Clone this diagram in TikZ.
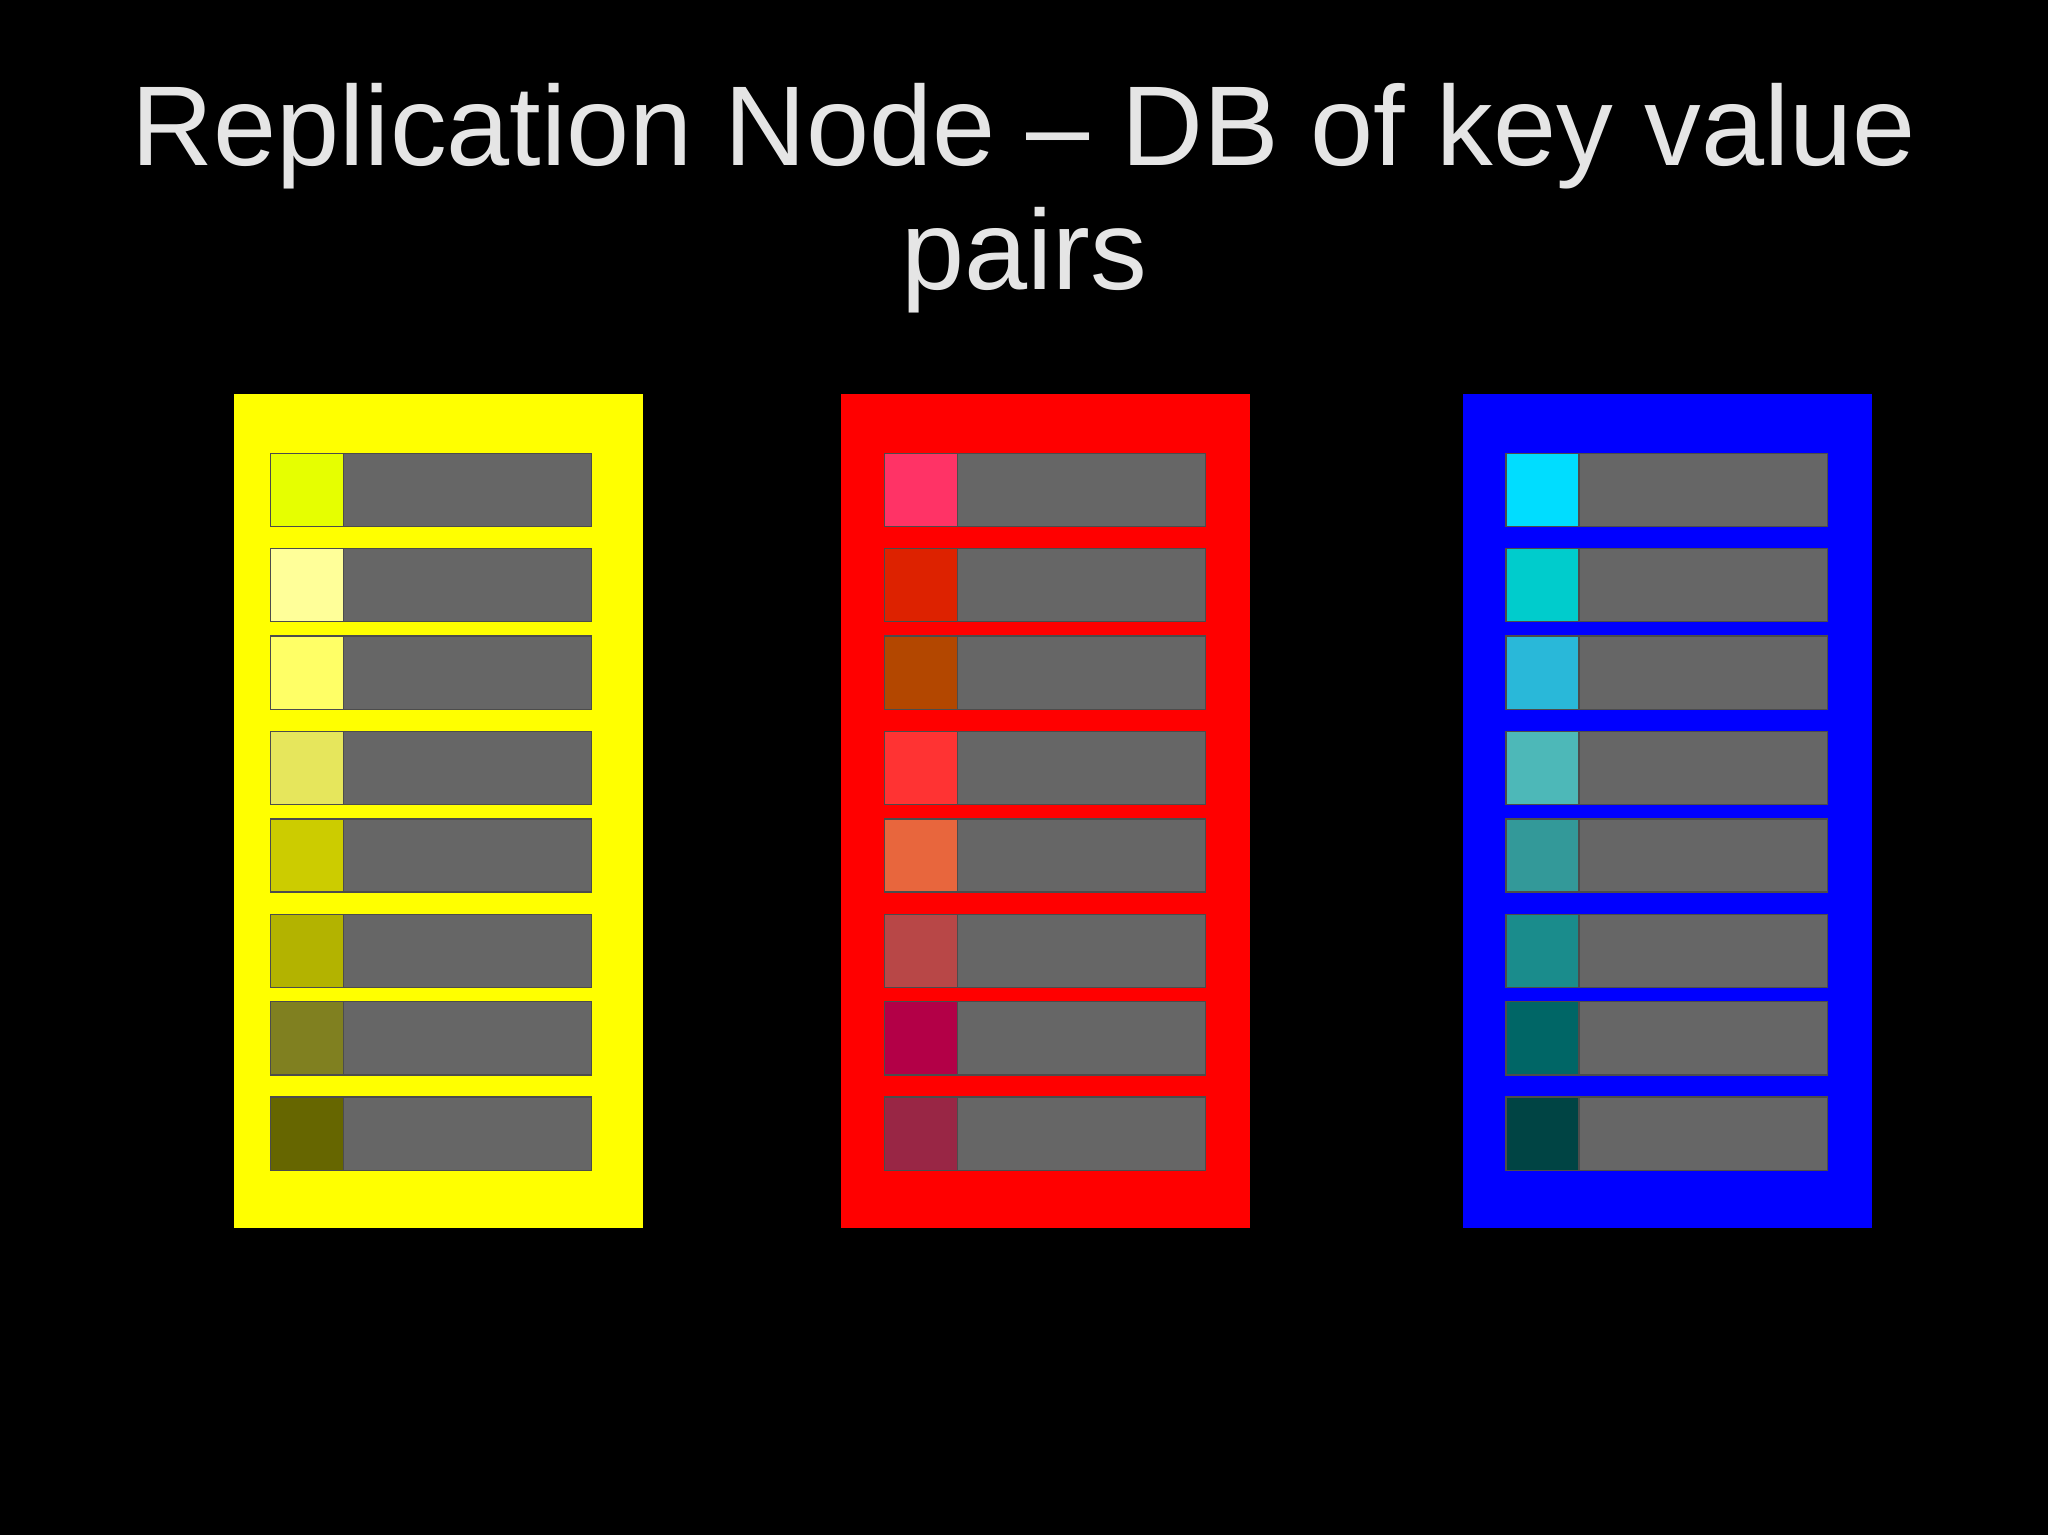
\documentclass[tikz,border=0pt]{standalone}
\usepackage{fontspec}
\setmainfont{Liberation Sans}
\begin{document}
\begin{tikzpicture}[x=0.01cm,y=-0.01cm,
  keybox/.style={draw=black!70,line width=0.3pt},
  every node/.style={inner sep=0}]
\fill[black] (0,0) rectangle (1568,1175);
\useasboundingbox (0,0) rectangle (1568,1175);
\node[text=white!90!black,font=\fontsize{24.7}{27}\selectfont,align=center,anchor=base] (title) at (784,222) {Replication Node -- DB of key value\\pairs};
\definecolor{valg}{HTML}{666666}
\foreach \px/\off/\pc/\cols in {179/28/FFFF00/{E6FF00,FFFF99,FFFF66,E6E65C,CCCC00,B3B300,808020,666600},
  644/33/FF0000/{FF3366,DD2200,B34700,FF3333,E8663D,B84747,B30047,992645},
  1120/33/0000FF/{00DDFF,00CCCC,29B8D9,4DB8B8,339999,1A8C8C,006666,004444}}{
  \definecolor{pcol}{HTML}{\pc}
  \fill[pcol] (\px,302) rectangle ++(313,638);
  \foreach \c [count=\i] in \cols {
    \pgfmathsetmacro{\yy}{{347,420,487,560,627,700,767,840}[\i-1]}
    \definecolor{kc}{HTML}{\c}
    \draw[keybox,fill=kc] (\px+\off,\yy) rectangle ++(56,56);
    \draw[keybox,fill=valg] (\px+\off+56,\yy) rectangle ++(190,56);
  }
}
\end{tikzpicture}
\end{document}
